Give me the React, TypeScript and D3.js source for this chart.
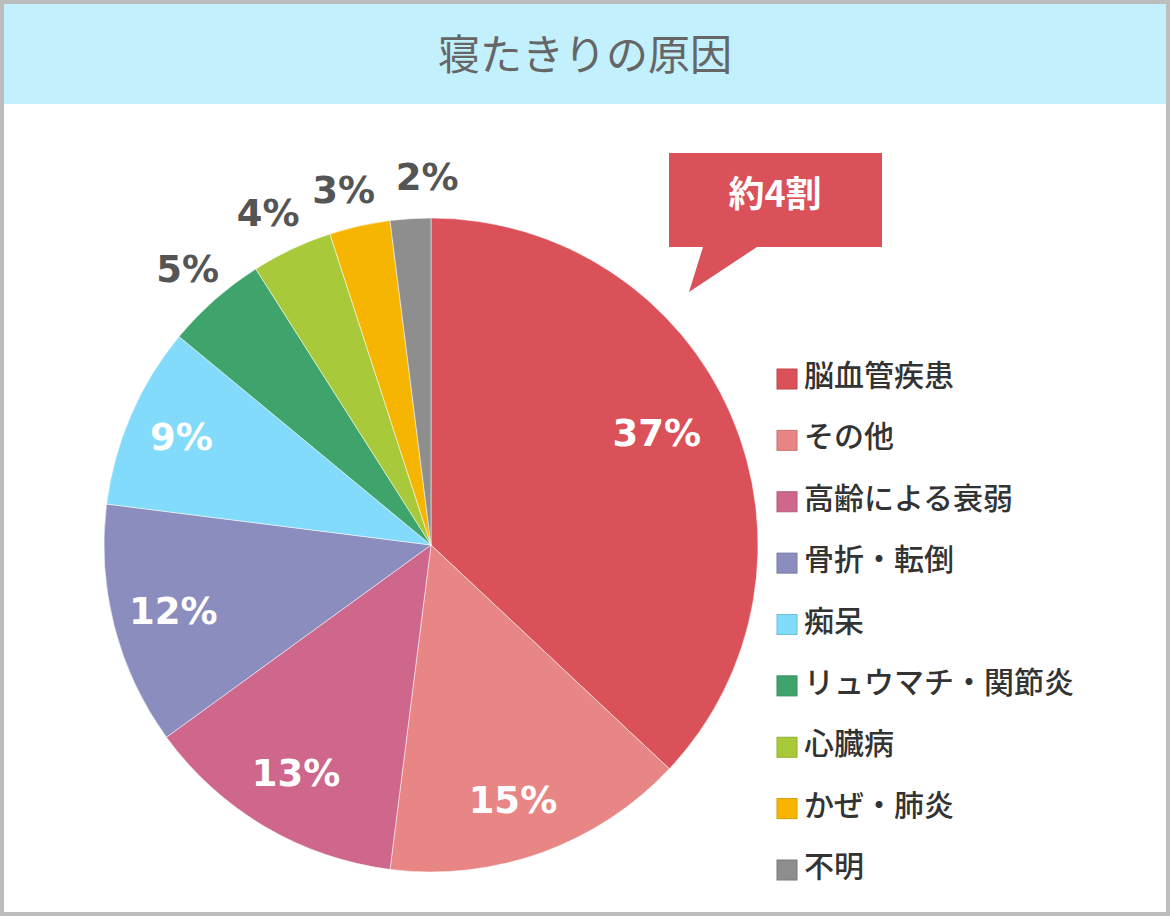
import * as d3 from "d3";

const categories = [
  "脳血管疾患",
  "その他",
  "高齢による衰弱",
  "骨折・転倒",
  "痴呆",
  "リュウマチ・関節炎",
  "心臓病",
  "かぜ・肺炎",
  "不明",
];
const values = [37, 15, 13, 12, 9, 5, 4, 3, 2];
const colors = [
  "#DA5159",
  "#E88585",
  "#CF678C",
  "#8B8DBE",
  "#82DBFA",
  "#3EA46B",
  "#A8C93A",
  "#F5B500",
  "#8E8E8E",
];
const insideLabels = [true, true, true, true, true, false, false, false, false];

// label placement tweaks (radius in px, angular nudge in degrees)
const labelRadius = [252, 268, 265, 266, 272, 368, 370, 366, 368];
const labelNudge = [-3, 2, 0, 0, 0, 0, -0.9, -1.2, 3];

const W = 1170;
const H = 916;
const cx = 431;
const cy = 545;
const R = 327;

export default function App() {
  const pie = d3
    .pie<number>()
    .sort(null)
    .value((d) => d);
  const arcs = pie(values);
  const arc = d3.arc<d3.PieArcDatum<number>>().innerRadius(0).outerRadius(R);

  const legendY = d3
    .scalePoint<string>()
    .domain(categories)
    .range([379, 870]);

  const labelFont = "'DejaVu Sans', Verdana, sans-serif";
  const jpFont = "'Noto Sans CJK JP', sans-serif";

  return (
    <svg
      width={W}
      height={H}
      style={{ position: "absolute", left: 0, top: 0, display: "block" }}
    >
      <rect x={0} y={0} width={W} height={H} fill="#BDBDBD" />
      <rect x={4} y={4} width={W - 8} height={H - 8} fill="#ffffff" />
      <rect x={4} y={4} width={W - 8} height={100} fill="#C2F1FD" />
      <text
        x={585}
        y={70}
        textAnchor="middle"
        fontFamily={jpFont}
        fontSize={42}
        fontWeight={400}
        fill="#666666"
      >
        寝たきりの原因
      </text>

      <g transform={`translate(${cx},${cy})`}>
        {arcs.map((a, i) => (
          <path
            key={i}
            d={arc(a) ?? ""}
            fill={colors[i]}
            stroke="#ffffff"
            strokeOpacity={0.5}
            strokeWidth={1}
          />
        ))}
        {arcs.map((a, i) => {
          const mid = (a.startAngle + a.endAngle) / 2 + (labelNudge[i] * Math.PI) / 180;
          const r = labelRadius[i];
          const x = r * Math.sin(mid);
          const y = -r * Math.cos(mid);
          return (
            <text
              key={"l" + i}
              x={x}
              y={y}
              dy="0.36em"
              textAnchor="middle"
              fontFamily={labelFont}
              fontWeight="bold"
              fontSize={37}
              fill={insideLabels[i] ? "#ffffff" : "#555555"}
            >
              {values[i]}%
            </text>
          );
        })}
      </g>

      <g>
        <path
          d="M669,153 L882,153 L882,247 L757,247 L689,292 L703,247 L669,247 Z"
          fill="#DA5159"
        />
        <text
          x={775}
          y={207}
          textAnchor="middle"
          fontFamily={jpFont}
          fontWeight="bold"
          fontSize={36}
          fill="#ffffff"
        >
          約4割
        </text>
      </g>

      <g>
        {categories.map((c, i) => {
          const y = legendY(c)!;
          return (
            <g key={c}>
              <rect
                x={777}
                y={y - 10}
                width={20}
                height={20}
                fill={colors[i]}
                stroke={d3.color(colors[i])!.darker(0.4).toString()}
                strokeWidth={1}
              />
              <text
                x={804}
                y={y + 7}
                fontFamily={jpFont}
                fontWeight={500}
                fontSize={30}
                fill="#333333"
              >
                {c}
              </text>
            </g>
          );
        })}
      </g>
    </svg>
  );
}
